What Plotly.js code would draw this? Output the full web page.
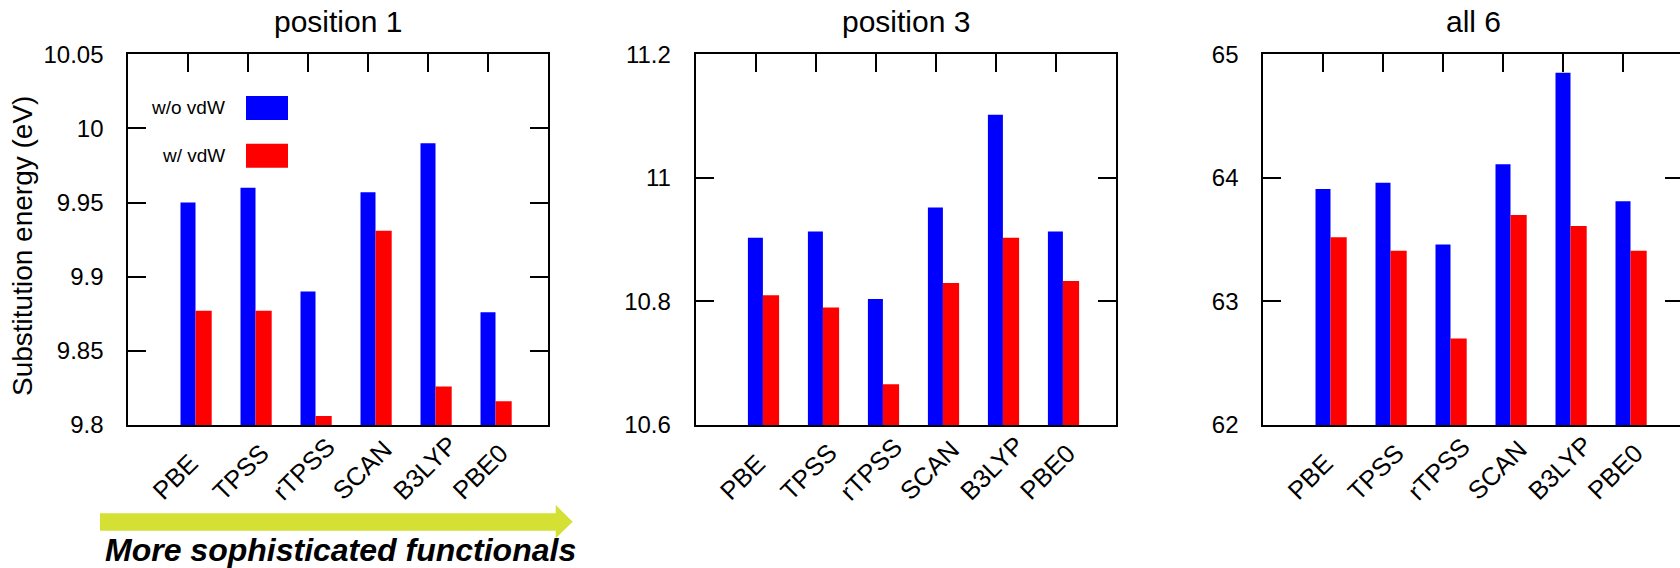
<!DOCTYPE html>
<html><head><meta charset="utf-8">
<script src="https://cdn.plot.ly/plotly-3.0.1.min.js"></script>
<style>html,body{margin:0;padding:0;overflow:hidden;background:#fff;width:1680px;height:568px}#chart{width:1700px;height:568px}</style>
</head><body><div id="chart"></div>
<script>
// ---- data ----
const functionals = ['PBE', 'TPSS', 'rTPSS', 'SCAN', 'B3LYP', 'PBE0'];
const seriesNames = ['w/o vdW', 'w/ vdW'];
const panelTitles = ['position 1', 'position 3', 'all 6'];
const pos1_noVdW = [9.950, 9.960, 9.890, 9.957, 9.990, 9.876];
const pos1_vdW   = [9.877, 9.877, 9.806, 9.931, 9.826, 9.816];
const pos3_noVdW = [10.903, 10.913, 10.804, 10.952, 11.102, 10.913];
const pos3_vdW   = [10.810, 10.790, 10.666, 10.830, 10.903, 10.833];
const all6_noVdW = [63.91, 63.96, 63.46, 64.11, 64.85, 63.81];
const all6_vdW   = [63.52, 63.41, 62.70, 63.70, 63.61, 63.41];
const pos1_tickVals = [9.8, 9.85, 9.9, 9.95, 10, 10.05];
const pos1_tickText = ['9.8', '9.85', '9.9', '9.95', '10', '10.05'];
const pos3_tickVals = [10.6, 10.8, 11, 11.2];
const pos3_tickText = ['10.6', '10.8', '11', '11.2'];
const all6_tickVals = [62, 63, 64, 65];
const all6_tickText = ['62', '63', '64', '65'];
const yTitle = 'Substitution energy (eV)';
const arrowLabel = 'More sophisticated functionals';

// ---- style ----
const W = 1700, H = 568;
const BLUE = '#0000ff', RED = '#ff0000', ARROW = 'rgb(212,224,52)';
const FONT = 'Liberation Sans, Arial, Helvetica, sans-serif';
const px = v => v / W;
const py = v => 1 - v / H;

const panels = [
  {noV: pos1_noVdW, v: pos1_vdW, range: [9.8, 10.05], tv: pos1_tickVals, tt: pos1_tickText, left: 128.3},
  {noV: pos3_noVdW, v: pos3_vdW, range: [10.6, 11.2], tv: pos3_tickVals, tt: pos3_tickText, left: 695.7},
  {noV: all6_noVdW, v: all6_vdW, range: [62, 65], tv: all6_tickVals, tt: all6_tickText, left: 1263.3}
];
const plotW = 420, plotTop = 54.3, plotBottom = 425;

const data = [];
const layout = {
  width: W, height: H,
  margin: {l: 0, r: 0, t: 0, b: 0},
  paper_bgcolor: '#fff', plot_bgcolor: '#fff',
  showlegend: false, barmode: 'overlay',
  font: {family: FONT, color: '#000'},
  shapes: [], annotations: []
};

panels.forEach((p, i) => {
  const sfx = i === 0 ? '' : String(i + 1);
  const xa = 'x' + sfx, ya = 'y' + sfx;
  data.push({type: 'bar', x: functionals, y: p.noV, name: seriesNames[0], xaxis: xa, yaxis: ya,
    marker: {color: BLUE, line: {width: 0}}, width: 0.25, offset: -0.13, hoverinfo: 'x+y'});
  data.push({type: 'bar', x: functionals, y: p.v, name: seriesNames[1], xaxis: xa, yaxis: ya,
    marker: {color: RED, line: {width: 0}}, width: 0.27, offset: 0.12, hoverinfo: 'x+y'});
  layout['xaxis' + sfx] = {
    domain: [px(p.left), px(p.left + plotW)], anchor: ya, type: 'category',
    categoryorder: 'array', categoryarray: functionals,
    range: [-1, 6], showline: true, linewidth: 2, linecolor: '#000', mirror: 'ticks',
    ticks: 'inside', ticklen: 18, tickwidth: 2, tickcolor: '#000',
    showticklabels: false,
    showgrid: false, zeroline: false, layer: 'below traces', fixedrange: true
  };
  layout['yaxis' + sfx] = {
    domain: [py(plotBottom), py(plotTop)], anchor: xa,
    range: p.range, tickmode: 'array', tickvals: p.tv, ticktext: p.tt,
    showline: true, linewidth: 2, linecolor: '#000', mirror: 'ticks',
    ticks: 'inside', ticklen: 18, tickwidth: 2, tickcolor: '#000',
    ticklabelstandoff: 18,
    tickfont: {family: FONT, size: 24, color: '#000'},
    showgrid: false, zeroline: false, layer: 'below traces', fixedrange: true
  };
  // rotated category labels, start-anchored below each tick
  functionals.forEach(f => {
    layout.annotations.push({
      text: f, xref: xa, yref: 'paper', x: f, y: py(508), xshift: -44,
      xanchor: 'left', yanchor: 'bottom', textangle: -45, showarrow: false,
      font: {family: FONT, size: 25.5, color: '#000'}
    });
  });
  layout.annotations.push({
    text: panelTitles[i], xref: 'paper', yref: 'paper',
    x: px(p.left + plotW / 2), y: py(22), xanchor: 'center', yanchor: 'middle',
    showarrow: false, font: {family: FONT, size: 30, color: '#000'}
  });
});

// y-axis title
layout.annotations.push({
  text: yTitle, xref: 'paper', yref: 'paper', x: px(22), y: py(246),
  xanchor: 'center', yanchor: 'middle', textangle: -90, showarrow: false,
  font: {family: FONT, size: 28, color: '#000'}
});

// legend (inside first panel)
const legendRows = [{name: seriesNames[0], color: BLUE, yc: 108}, {name: seriesNames[1], color: RED, yc: 155.7}];
legendRows.forEach(r => {
  layout.shapes.push({type: 'rect', xref: 'paper', yref: 'paper',
    x0: px(246), x1: px(288), y0: py(r.yc + 12), y1: py(r.yc - 12),
    fillcolor: r.color, line: {width: 0}});
  layout.annotations.push({text: r.name, xref: 'paper', yref: 'paper',
    x: px(227), y: py(r.yc), xanchor: 'right', yanchor: 'middle', showarrow: false,
    font: {family: FONT, size: 19, color: '#000'}});
});

// arrow
const ax0 = 100, ax1 = 555.7, axTip = 572.7, sy0 = 513.3, sy1 = 530.7, hy0 = 505, hy1 = 538.3, ym = 521.8;
layout.shapes.push({type: 'path', xref: 'paper', yref: 'paper',
  path: `M${px(ax0)},${py(sy0)} L${px(ax1)},${py(sy0)} L${px(ax1)},${py(hy0)} L${px(axTip)},${py(ym)} L${px(ax1)},${py(hy1)} L${px(ax1)},${py(sy1)} L${px(ax0)},${py(sy1)} Z`,
  fillcolor: ARROW, line: {width: 0}});
layout.annotations.push({
  text: '<b><i>' + arrowLabel + '</i></b>', xref: 'paper', yref: 'paper',
  x: px(340), y: py(550), xanchor: 'center', yanchor: 'middle', showarrow: false,
  font: {family: FONT, size: 32, color: '#000'}
});

Plotly.newPlot('chart', data, layout, {staticPlot: true, displayModeBar: false});
</script>
</body></html>
